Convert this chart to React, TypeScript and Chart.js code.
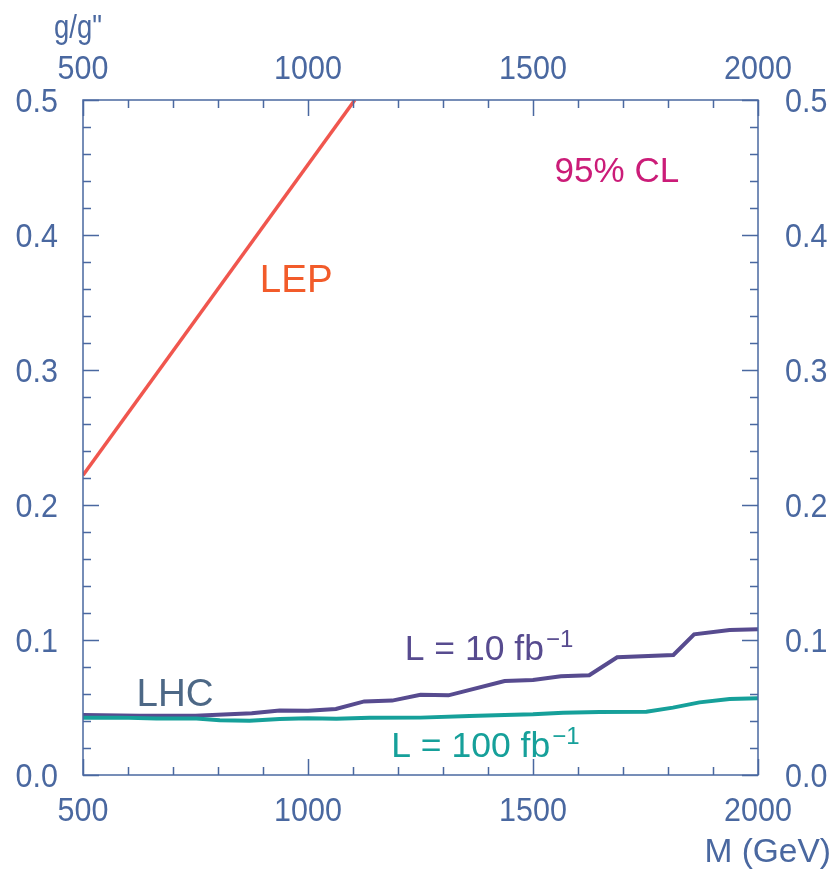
import React, { useEffect, useRef } from "react";
import { Chart, registerables } from "chart.js";

Chart.register(...registerables);

// LEP exclusion line (M in GeV, g/g'')
const lepMass = [500, 1104];
const lepCoupling = [0.222, 0.5];

// LHC reach, L = 10 fb^-1
const lhc10Mass = [500, 625, 750, 875, 937, 1000, 1062, 1125, 1187, 1250, 1312, 1437, 1500, 1562, 1625, 1687, 1812, 1858, 1937, 2000];
const lhc10Coupling = [0.0444, 0.0439, 0.0439, 0.0458, 0.0478, 0.0476, 0.0489, 0.0545, 0.0551, 0.0595, 0.059, 0.0696, 0.0704, 0.0731, 0.0739, 0.0872, 0.0889, 0.1042, 0.1074, 0.1079];

// LHC reach, L = 100 fb^-1
const lhc100Mass = [500, 582, 663, 752, 804, 870, 937, 1000, 1063, 1137, 1250, 1359, 1437, 1500, 1567, 1648, 1752, 1811, 1870, 1937, 2000];
const lhc100Coupling = [0.0425, 0.0425, 0.0418, 0.0418, 0.0405, 0.0402, 0.0415, 0.042, 0.0416, 0.0424, 0.0425, 0.0437, 0.0445, 0.045, 0.0461, 0.0467, 0.0469, 0.0499, 0.0538, 0.0563, 0.0568];

// Axis ticks
const xTickValues = [500, 1000, 1500, 2000];
const xTickLabels = ["500", "1000", "1500", "2000"];
const yTickValues = [0, 0.1, 0.2, 0.3, 0.4, 0.5];
const yTickLabels = ["0.0", "0.1", "0.2", "0.3", "0.4", "0.5"];

const AXIS = "#4a68a0";
const FONT = "Liberation Sans, Arial, Helvetica, sans-serif";

const pairs = (xs: number[], ys: number[]) => xs.map((x, i) => ({ x, y: ys[i] }));

// draw text squeezed horizontally by sx, anchored at (x, y)
function drawText(ctx: CanvasRenderingContext2D, text: string, x: number, y: number, align: "left" | "right" | "center", sx: number) {
  const w = ctx.measureText(text).width * sx;
  let left = x;
  if (align === "right") left = x - w;
  else if (align === "center") left = x - w / 2;
  ctx.save();
  ctx.translate(left, y);
  ctx.scale(sx, 1);
  ctx.textAlign = "left";
  ctx.fillText(text, 0, 0);
  ctx.restore();
  return left + w;
}

const framePlugin = {
  id: "frameAndText",
  afterDraw(chart: any) {
    const { ctx, chartArea: a, scales } = chart;
    const xs = scales.x;
    const ys = scales.y;
    ctx.save();
    ctx.strokeStyle = AXIS;
    ctx.lineWidth = 1.5;
    ctx.strokeRect(a.left, a.top, a.right - a.left, a.bottom - a.top);

    // inward ticks on all four sides
    ctx.beginPath();
    for (let v = 500; v <= 2000; v += 100) {
      const px = Math.round(xs.getPixelForValue(v)) + 0.5;
      const len = v % 500 === 0 ? 16 : 8;
      ctx.moveTo(px, a.bottom);
      ctx.lineTo(px, a.bottom - len);
      ctx.moveTo(px, a.top);
      ctx.lineTo(px, a.top + len);
    }
    for (let i = 0; i <= 25; i++) {
      const v = i * 0.02;
      const py = Math.round(ys.getPixelForValue(v)) + 0.5;
      const len = i % 5 === 0 ? 16 : 8;
      ctx.moveTo(a.left, py);
      ctx.lineTo(a.left + len, py);
      ctx.moveTo(a.right, py);
      ctx.lineTo(a.right - len, py);
    }
    ctx.stroke();

    // tick labels
    const SX = 0.91;
    ctx.fillStyle = AXIS;
    ctx.font = `33.5px ${FONT}`;
    ctx.textBaseline = "alphabetic";
    xTickValues.forEach((v, i) => {
      const px = xs.getPixelForValue(v);
      drawText(ctx, xTickLabels[i], px, a.bottom + 46, "center", SX);
      drawText(ctx, xTickLabels[i], px, a.top - 21, "center", SX);
    });
    yTickValues.forEach((v, i) => {
      const py = ys.getPixelForValue(v) + 12;
      drawText(ctx, yTickLabels[i], a.left - 25, py, "right", SX);
      drawText(ctx, yTickLabels[i], a.right + 27, py, "left", SX);
    });

    // axis titles
    drawText(ctx, 'g/g"', 54, 38, "left", 0.82);
    drawText(ctx, "M (GeV)", 831, 862, "right", 1);

    // annotations placed in data coordinates
    const label = (text: string, x: number, y: number, color: string, size: number) => {
      ctx.fillStyle = color;
      ctx.font = `${size}px ${FONT}`;
      ctx.textAlign = "left";
      const px = xs.getPixelForValue(x);
      const py = ys.getPixelForValue(y);
      ctx.fillText(text, px, py);
      return px + ctx.measureText(text).width;
    };
    const sup = (text: string, px: number, py: number, color: string) => {
      ctx.fillStyle = color;
      ctx.font = `24px ${FONT}`;
      ctx.textAlign = "left";
      ctx.fillText(text, px + 2, py);
    };

    label("LEP", 893, 0.358, "#f25b2a", 38.5);
    label("95% CL", 1548, 0.4393, "#cb1c78", 35);
    label("LHC", 619, 0.0511, "#4d6886", 38.5);
    const e10 = label("L = 10 fb", 1215, 0.0852, "#574b8f", 35.5);
    sup("\u22121", e10, ys.getPixelForValue(0.0852) - 13, "#574b8f");
    const e100 = label("L = 100 fb", 1185, 0.0133, "#16a09a", 35.5);
    sup("\u22121", e100, ys.getPixelForValue(0.0133) - 13, "#16a09a");
    ctx.restore();
  },
};

export default function App() {
  const ref = useRef<HTMLCanvasElement | null>(null);

  useEffect(() => {
    if (!ref.current) return;
    const chart = new Chart(ref.current, {
      type: "line",
      data: {
        datasets: [
          {
            data: pairs(lepMass, lepCoupling),
            borderColor: "#f0564e",
            borderWidth: 3.5,
            pointRadius: 0,
            tension: 0,
          },
          {
            data: pairs(lhc100Mass, lhc100Coupling),
            borderColor: "#16a09a",
            borderWidth: 4,
            pointRadius: 0,
            tension: 0,
          },
          {
            data: pairs(lhc10Mass, lhc10Coupling),
            borderColor: "#574b8f",
            borderWidth: 4,
            pointRadius: 0,
            tension: 0,
          },
        ],
      },
      options: {
        responsive: false,
        animation: false,
        devicePixelRatio: 1,
        layout: { padding: { left: 83, right: 75, top: 100, bottom: 94 } },
        plugins: { legend: { display: false }, tooltip: { enabled: false } },
        scales: {
          x: { type: "linear", min: 500, max: 2000, display: false },
          y: { type: "linear", min: 0, max: 0.5, display: false },
        },
      },
      plugins: [framePlugin],
    });
    return () => chart.destroy();
  }, []);

  return (
    <div style={{ position: "absolute", left: 0, top: 0, width: 833, height: 869, background: "#fff" }}>
      <canvas ref={ref} width={833} height={869} />
    </div>
  );
}
